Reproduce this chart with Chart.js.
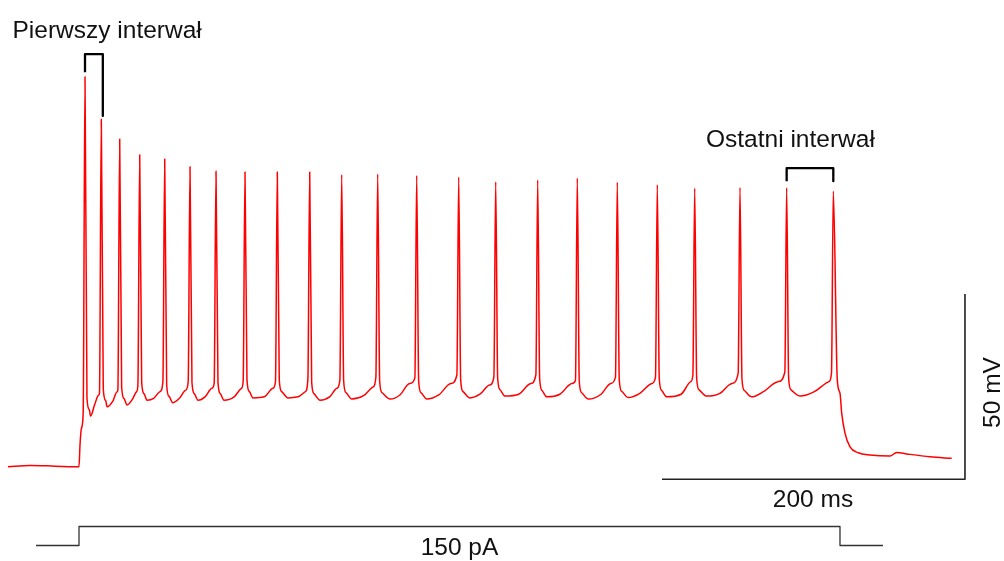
<!DOCTYPE html>
<html>
<head>
<meta charset="utf-8">
<script src="https://cdn.jsdelivr.net/npm/chart.js@4/dist/chart.umd.min.js"></script>
<style>
  html, body { margin: 0; padding: 0; background: #fff; }
  canvas { display: block; }
</style>
</head>
<body>
<canvas id="trace" width="1004" height="561"></canvas>
<script>
(function () {
  'use strict';

  // membrane potential, time in ms from current onset, voltage in mV
  var restT = [-46.9, -32.3, -15.8, 0];
  var restV = [-70.1, -69.7, -69.9, -70.1];
  var onsetT = [0.66, 1.65];
  var onsetV = [-64.2, -59.6];

  var spikeT = [3.96, 14.72, 26.86, 40.07, 56.57, 73.27, 90.43, 109.57, 130.89, 152.28, 173.40, 197.16,
    222.90, 250.63, 275.05, 302.77, 328.91, 355.31, 381.72, 406.40, 436.30, 467.10, 497.89];
  var spikeV = [35.2, 23.7, 18.4, 14.1, 13.0, 10.9, 9.7, 9.5, 9.5, 9.5, 8.8, 8.9,
    8.5, 8.1, 6.8, 7.3, 7.8, 6.7, 6.0, 5.1, 5.3, 5.2, 4.3];
  var thresholdV = [-55.6, -50.2, -49.4, -48.0, -47.2, -47.2, -47.5, -46.9, -47.1, -46.4, -46.7, -45.9,
    -46.1, -45.3, -45.9, -45.3, -46.7, -45.9, -45.9, -45.3, -44.8, -44.5, -44.8];

  // afterhyperpolarisation trough, then two points on the ramp to the next spike
  var ahpT = [7.59, 18.48, 31.68, 44.88, 61.85, 78.55, 95.71, 114.85, 137.95, 159.08, 180.0,
    205.28, 229.5, 258.09, 281.19, 308.71, 336.17, 362.57, 387.92, 414.32, 444.03, 475.91];
  var ahpV = [-56.4, -53.9, -53.4, -52.1, -52.8, -52.1, -52.1, -51.5, -51.5, -52.1, -51.8,
    -51.8, -51.8, -51.5, -51.0, -51.2, -51.8, -51.4, -51.2, -51.0, -51.2, -51.0];
  var midT = [10.26, 22.42, 35.21, 49.29, 66.25, 83.21, 102.40, 122.24, 144.64, 165.44, 187.83,
    211.83, 237.43, 264.62, 290.22, 317.41, 344.61, 370.2, 397.4, 423.0, 451.8, 485.4];
  var midV = [-53.4, -52.3, -51.9, -51.6, -51.6, -51.2, -51.2, -51.2, -51.2, -51.2, -50.9,
    -50.7, -50.7, -50.5, -50.5, -50.5, -50.5, -50.25, -50.5, -50.25, -49.8, -49.8];
  var lateT = [12.9, 25.0, 38.0, 53.45, 70.41, 87.69, 107.21, 128.0, 149.44, 170.24, 194.23,
    218.23, 245.43, 271.02, 298.22, 325.41, 351.01, 378.2, 403.8, 431.0, 461.4, 494.98];
  var lateV = [-50.8, -49.9, -49.8, -49.8, -49.4, -48.9, -48.9, -48.9, -49.8, -48.9, -48.5,
    -47.6, -47.6, -48.0, -47.6, -47.6, -47.6, -47.6, -47.1, -47.6, -47.1, -47.1];

  var offsetT = [500.53, 502.3, 503.43, 505.61, 508.91, 514.39, 522.11, 535.31, 539.74, 546.34, 561.72, 576.04];
  var offsetV = [-46.7, -50.2, -55.6, -61.0, -64.7, -66.3, -66.9, -67.2, -66.2, -66.6, -67.4, -67.8];

  // injected current (pA)
  var stimT = [-28.4, 0, 0, 502.3, 502.3, 530.7];
  var stimI = [0, 0, 150, 150, 0, 0];

  // scale bars: 200 ms, 50 mV
  var barT = [384.8, 584.8];
  var barV = [-73.45, -23.45];

  // interval brackets: top level and leg ends (mV)
  var firstBracket = { top: 41.3, legs: [36.4, 24.6] };
  var lastBracket = { top: 10.5, legs: [7.0, 7.0] };

  var RISE_MS = 1.2;
  var FALL_MS = [1.3, 2.9];
  var FALL_ABOVE_AHP = [4.8, 1.7];

  var pts = [];
  var i;
  for (i = 0; i < restT.length; i++) pts.push({ x: restT[i], y: restV[i] });
  for (i = 0; i < onsetT.length; i++) pts.push({ x: onsetT[i], y: onsetV[i] });
  for (i = 0; i < spikeT.length; i++) {
    pts.push({ x: spikeT[i] - RISE_MS, y: thresholdV[i] });
    pts.push({ x: spikeT[i], y: spikeV[i] });
    if (i < ahpT.length) {
      pts.push({ x: spikeT[i] + FALL_MS[0], y: ahpV[i] + FALL_ABOVE_AHP[0] });
      pts.push({ x: spikeT[i] + FALL_MS[1], y: ahpV[i] + FALL_ABOVE_AHP[1] });
      pts.push({ x: ahpT[i], y: ahpV[i] });
      pts.push({ x: midT[i], y: midV[i] });
      pts.push({ x: lateT[i], y: lateV[i] });
    }
  }
  for (i = 0; i < offsetT.length; i++) pts.push({ x: offsetT[i], y: offsetV[i] });

  var stimPts = stimT.map(function (t, k) { return { x: t, y: stimI[k] }; });

  var barPts = [
    { x: barT[0], y: barV[0] },
    { x: barT[1], y: barV[0] },
    { x: barT[1], y: barV[1] }
  ];

  var bracket = function (t0, t1, b) {
    return [
      { x: t0, y: b.legs[0] },
      { x: t0, y: b.top },
      { x: t1, y: b.top },
      { x: t1, y: b.legs[1] }
    ];
  };
  var n = spikeT.length;

  var lineDefaults = { showLine: true, pointRadius: 0, tension: 0, fill: false, borderJoinStyle: 'round' };
  var ds = function (data, color, width, axis) {
    return Object.assign({}, lineDefaults, {
      data: data, borderColor: color, borderWidth: width, yAxisID: axis || 'y'
    });
  };

  var membrane = ds(pts, '#ff0000', 1.5);
  membrane.cubicInterpolationMode = 'monotone';

  var labels = {
    id: 'labels',
    afterDraw: function (chart) {
      var ctx = chart.ctx;
      ctx.save();
      ctx.fillStyle = '#111';
      ctx.font = '24.5px "Liberation Sans", Arial, sans-serif';
      ctx.textBaseline = 'alphabetic';
      ctx.textAlign = 'left';
      ctx.fillText('Pierwszy interwał', 12.5, 38.3);
      ctx.fillText('Ostatni interwał', 706, 146.7);
      ctx.textAlign = 'center';
      ctx.fillText('200 ms', 813, 507.3);
      ctx.fillText('150 pA', 459.5, 555);
      ctx.translate(1000, 392.5);
      ctx.rotate(-Math.PI / 2);
      ctx.fillText('50 mV', 0, 0);
      ctx.restore();
    }
  };

  var ctx = document.getElementById('trace').getContext('2d');
  window.traceChart = new Chart(ctx, {
    type: 'scatter',
    data: {
      datasets: [
        ds(stimPts, '#333333', 1.3, 'yI'),
        ds(barPts, '#222222', 1.6),
        ds(bracket(spikeT[0], spikeT[1] + 1.0, firstBracket), '#000000', 2.3),
        ds(bracket(spikeT[n - 2], spikeT[n - 1], lastBracket), '#000000', 2.3),
        membrane
      ]
    },
    options: {
      responsive: false,
      devicePixelRatio: 1,
      animation: false,
      layout: { padding: 0 },
      plugins: { legend: { display: false }, tooltip: { enabled: false } },
      scales: {
        x: { type: 'linear', display: false, min: -52.145, max: 610.56 },
        y: { type: 'linear', display: false, min: -95.5, max: 55.88 },
        yI: { type: 'linear', display: false, min: -122.4, max: 4306.6 }
      }
    },
    plugins: [labels]
  });
})();
</script>
</body>
</html>
